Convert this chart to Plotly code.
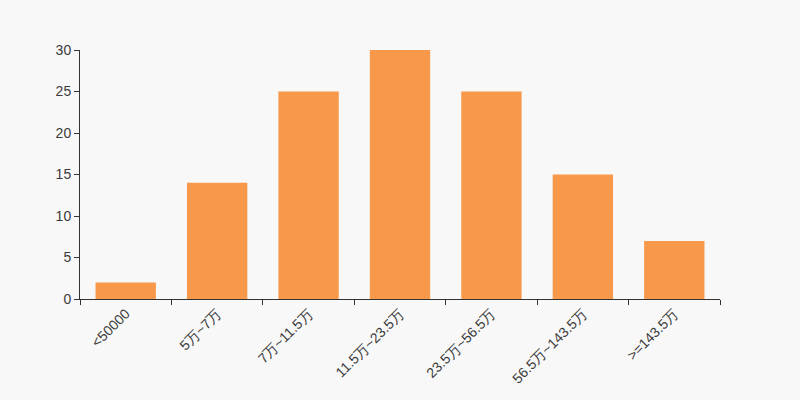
import plotly.graph_objects as go

categories = ["<50000", "5万~7万", "7万~11.5万", "11.5万~23.5万", "23.5万~56.5万", "56.5万~143.5万", ">=143.5万"]
values = [2, 14, 25, 30, 25, 15, 7]
y_ticks = [0, 5, 10, 15, 20, 25, 30]

fig = go.Figure(go.Bar(x=categories, y=values, marker=dict(color="#F7984A", line=dict(width=0)),
                       hoverinfo="x+y"))

fig.update_layout(
    width=800, height=400,
    margin=dict(l=80, r=80, t=50, b=101, pad=0),
    paper_bgcolor="#F8F8F8", plot_bgcolor="#F8F8F8",
    bargap=0.34,
    showlegend=False,
    font=dict(family="Liberation Sans, Arial, sans-serif", size=14, color="#333333"),
)
fig.update_xaxes(
    type="category", tickangle=-45, tickson="boundaries",
    showline=True, linecolor="#333333", linewidth=1,
    ticks="outside", ticklen=5, tickcolor="#333333",
    showgrid=False, zeroline=False,
    tickfont=dict(color="#3a3a3a", size=14),
)
fig.update_yaxes(
    range=[0, 30], tickvals=y_ticks,
    showline=True, linecolor="#333333", linewidth=1,
    ticks="outside", ticklen=5, tickcolor="#333333",
    showgrid=False, zeroline=False,
    tickfont=dict(color="#3a3a3a", size=14),
)

fig.write_html("out.html", config={"displayModeBar": False},
               post_script="document.body.style.margin='0';document.body.style.background='#F8F8F8';")
